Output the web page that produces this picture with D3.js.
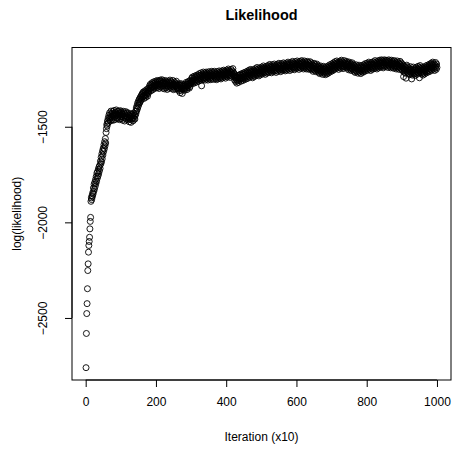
<!DOCTYPE html>
<html>
<head>
<meta charset="utf-8">
<title>Likelihood</title>
<script src="https://d3js.org/d3.v7.min.js"></script>
<style>
  body { margin: 0; background: #fff; }
  svg text { font-family: "Liberation Sans", Arial, Helvetica, sans-serif; fill: #000; }
  .axis path, .axis line { stroke: #000; }
</style>
</head>
<body>
<svg id="chart" width="455" height="450"></svg>
<script>
// log-likelihood trace, one value per saved iteration (x10)
var loglik = [
  -2760, -2581, -2477, -2425, -2347, -2252, -2217, -2156, -2121, -2100, -2078, -2034, -1995, -1974, -1890, -1872, -1881, -1860, -1866, -1845,
  -1852, -1820, -1838, -1801, -1826, -1790, -1812, -1776, -1798, -1760, -1785, -1742, -1770, -1735, -1758, -1722, -1746, -1710, -1731, -1702,
  -1718, -1680, -1695, -1660, -1684, -1642, -1668, -1626, -1648, -1612, -1630, -1594, -1616, -1578, -1600, -1562, -1585, -1530, -1510, -1488,
  -1496, -1470, -1482, -1455, -1476, -1440, -1462, -1428, -1451, -1470, -1436, -1418, -1447, -1465, -1430, -1452, -1420, -1441, -1466, -1433,
  -1415, -1448, -1430, -1462, -1425, -1441, -1412, -1454, -1436, -1420, -1458, -1431, -1446, -1418, -1440, -1463, -1427, -1449, -1416, -1437,
  -1458, -1424, -1447, -1432, -1466, -1438, -1419, -1452, -1428, -1445, -1470, -1433, -1456, -1421, -1442, -1461, -1430, -1450, -1426, -1448,
  -1464, -1437, -1455, -1474, -1442, -1460, -1431, -1452, -1477, -1446, -1462, -1434, -1458, -1441, -1469, -1449, -1428, -1456, -1439, -1460,
  -1442, -1420, -1432, -1402, -1418, -1390, -1408, -1376, -1396, -1368, -1385, -1358, -1376, -1352, -1370, -1345, -1362, -1338, -1356, -1331,
  -1348, -1325, -1342, -1318, -1336, -1352, -1322, -1340, -1312, -1330, -1346, -1316, -1334, -1305, -1322, -1340, -1310, -1326, -1298, -1317,
  -1308, -1286, -1302, -1278, -1296, -1312, -1282, -1298, -1270, -1290, -1306, -1276, -1294, -1265, -1284, -1300, -1272, -1288, -1262, -1280,
  -1296, -1268, -1285, -1258, -1276, -1294, -1266, -1282, -1300, -1262, -1279, -1256, -1274, -1292, -1264, -1286, -1254, -1272, -1298, -1268,
  -1284, -1260, -1278, -1302, -1270, -1288, -1258, -1276, -1296, -1266, -1284, -1305, -1272, -1290, -1262, -1280, -1299, -1268, -1286, -1256,
  -1274, -1294, -1264, -1282, -1300, -1270, -1288, -1258, -1278, -1306, -1276, -1292, -1266, -1284, -1302, -1272, -1290, -1262, -1281, -1298,
  -1286, -1304, -1278, -1296, -1312, -1282, -1300, -1274, -1322, -1292, -1310, -1284, -1302, -1276, -1326, -1298, -1288, -1306, -1280, -1296,
  -1310, -1284, -1302, -1276, -1294, -1268, -1288, -1306, -1278, -1296, -1270, -1286, -1262, -1280, -1298, -1272, -1290, -1258, -1276, -1264,
  -1270, -1246, -1262, -1240, -1258, -1274, -1248, -1264, -1236, -1254, -1270, -1242, -1258, -1232, -1250, -1266, -1238, -1256, -1228, -1246,
  -1262, -1234, -1250, -1222, -1240, -1258, -1230, -1248, -1218, -1286, -1236, -1254, -1226, -1244, -1214, -1232, -1250, -1220, -1240, -1256,
  -1226, -1244, -1214, -1232, -1250, -1220, -1238, -1256, -1224, -1242, -1212, -1230, -1248, -1218, -1236, -1254, -1222, -1240, -1210, -1228,
  -1246, -1216, -1234, -1252, -1222, -1240, -1210, -1228, -1248, -1218, -1236, -1254, -1224, -1242, -1212, -1230, -1250, -1220, -1238, -1208,
  -1226, -1244, -1214, -1232, -1250, -1220, -1238, -1208, -1226, -1244, -1214, -1232, -1204, -1222, -1240, -1210, -1228, -1246, -1216, -1234,
  -1204, -1222, -1240, -1210, -1228, -1198, -1216, -1234, -1206, -1224, -1242, -1212, -1230, -1200, -1218, -1236, -1208, -1226, -1196, -1214,
  -1232, -1220, -1238, -1256, -1228, -1246, -1264, -1236, -1254, -1272, -1242, -1260, -1232, -1250, -1268, -1240, -1258, -1230, -1248, -1226,
  -1244, -1262, -1232, -1250, -1222, -1240, -1258, -1228, -1246, -1218, -1236, -1254, -1224, -1242, -1214, -1232, -1250, -1220, -1238, -1210,
  -1228, -1246, -1216, -1234, -1204, -1222, -1240, -1212, -1230, -1200, -1218, -1236, -1208, -1226, -1244, -1214, -1232, -1202, -1220, -1238,
  -1208, -1226, -1196, -1214, -1232, -1202, -1220, -1190, -1208, -1226, -1198, -1216, -1234, -1204, -1222, -1192, -1210, -1228, -1200, -1218,
  -1188, -1206, -1224, -1194, -1212, -1182, -1200, -1218, -1190, -1208, -1226, -1196, -1214, -1184, -1202, -1220, -1192, -1210, -1180, -1198,
  -1216, -1186, -1204, -1174, -1192, -1210, -1182, -1200, -1218, -1188, -1206, -1176, -1194, -1212, -1184, -1202, -1172, -1190, -1208, -1180,
  -1198, -1216, -1186, -1204, -1174, -1192, -1210, -1180, -1198, -1168, -1186, -1204, -1176, -1194, -1212, -1182, -1200, -1170, -1188, -1206,
  -1178, -1196, -1166, -1184, -1202, -1172, -1190, -1208, -1180, -1198, -1168, -1186, -1204, -1174, -1192, -1162, -1180, -1198, -1170, -1188,
  -1206, -1176, -1194, -1164, -1182, -1200, -1170, -1188, -1158, -1176, -1194, -1166, -1184, -1202, -1172, -1190, -1160, -1178, -1196, -1168,
  -1186, -1156, -1174, -1192, -1164, -1182, -1200, -1170, -1188, -1158, -1176, -1194, -1166, -1184, -1154, -1172, -1190, -1162, -1180, -1198,
  -1168, -1186, -1156, -1174, -1192, -1162, -1180, -1198, -1170, -1188, -1158, -1176, -1194, -1164, -1182, -1200, -1172, -1190, -1160, -1178,
  -1196, -1166, -1184, -1202, -1174, -1192, -1210, -1180, -1198, -1168, -1186, -1204, -1176, -1194, -1212, -1184, -1202, -1172, -1190, -1208,
  -1180, -1198, -1216, -1186, -1204, -1222, -1194, -1212, -1182, -1200, -1218, -1190, -1208, -1226, -1196, -1214, -1184, -1202, -1220, -1192,
  -1210, -1228, -1198, -1216, -1188, -1206, -1224, -1194, -1212, -1182, -1200, -1218, -1188, -1206, -1176, -1194, -1212, -1184, -1202, -1172,
  -1190, -1208, -1178, -1196, -1166, -1184, -1202, -1172, -1190, -1160, -1178, -1196, -1168, -1186, -1156, -1174, -1192, -1164, -1182, -1200,
  -1170, -1188, -1158, -1176, -1194, -1164, -1182, -1152, -1170, -1188, -1160, -1178, -1196, -1166, -1184, -1154, -1172, -1190, -1162, -1180,
  -1170, -1188, -1158, -1176, -1194, -1166, -1184, -1202, -1172, -1190, -1162, -1180, -1198, -1170, -1188, -1206, -1176, -1194, -1166, -1184,
  -1202, -1174, -1192, -1210, -1180, -1198, -1216, -1188, -1206, -1176, -1194, -1212, -1184, -1202, -1220, -1190, -1208, -1178, -1196, -1214,
  -1186, -1204, -1222, -1192, -1210, -1180, -1198, -1216, -1188, -1206, -1176, -1194, -1212, -1182, -1200, -1170, -1188, -1206, -1178, -1196,
  -1168, -1186, -1204, -1174, -1192, -1162, -1180, -1198, -1170, -1188, -1206, -1176, -1194, -1164, -1182, -1200, -1172, -1190, -1160, -1178,
  -1196, -1166, -1184, -1154, -1172, -1190, -1162, -1180, -1198, -1168, -1186, -1156, -1174, -1192, -1164, -1182, -1152, -1170, -1188, -1160,
  -1178, -1150, -1166, -1184, -1156, -1174, -1192, -1162, -1180, -1150, -1168, -1186, -1158, -1176, -1152, -1164, -1182, -1154, -1172, -1190,
  -1160, -1178, -1150, -1168, -1186, -1156, -1174, -1192, -1164, -1182, -1152, -1170, -1188, -1158, -1176, -1194, -1166, -1184, -1154, -1172,
  -1190, -1162, -1180, -1198, -1168, -1186, -1156, -1174, -1192, -1164, -1182, -1200, -1170, -1188, -1158, -1176, -1194, -1166, -1184, -1202,
  -1172, -1190, -1208, -1178, -1238, -1196, -1214, -1184, -1202, -1220, -1190, -1246, -1208, -1178, -1196, -1214, -1186, -1204, -1222, -1192,
  -1210, -1228, -1198, -1216, -1186, -1204, -1222, -1250, -1212, -1230, -1200, -1218, -1188, -1206, -1224, -1196, -1214, -1232, -1202, -1220,
  -1190, -1208, -1226, -1196, -1214, -1184, -1202, -1220, -1192, -1244, -1210, -1180, -1198, -1216, -1188, -1206, -1224, -1194, -1212, -1230,
  -1200, -1218, -1188, -1206, -1224, -1194, -1212, -1182, -1200, -1218, -1190, -1208, -1178, -1196, -1214, -1186, -1204, -1174, -1192, -1210,
  -1180, -1198, -1168, -1186, -1204, -1174, -1192, -1162, -1180, -1198, -1170, -1188, -1206, -1176, -1194, -1164, -1182, -1200, -1172, -1190
];
var iterations = loglik.map(function(d, i) { return i + 1; });

var xTicks = [0, 200, 400, 600, 800, 1000];
var yTicks = [-2500, -2000, -1500];

var svg = d3.select("#chart");

// plot box (R style, 4% padding on each side of the data range)
var box = { left: 72, right: 451, top: 47.5, bottom: 380 };

var xr = d3.extent(iterations), yr = d3.extent(loglik);
var xpad = (xr[1] - xr[0]) * 0.04, ypad = (yr[1] - yr[0]) * 0.04;

var x = d3.scaleLinear()
    .domain([xr[0] - xpad, xr[1] + xpad])
    .range([box.left, box.right]);

var y = d3.scaleLinear()
    .domain([yr[0] - ypad, yr[1] + ypad])
    .range([box.bottom, box.top]);

// points, open circles
svg.append("g")
  .selectAll("circle")
  .data(loglik)
  .enter().append("circle")
    .attr("cx", function(d, i) { return x(iterations[i]); })
    .attr("cy", function(d) { return y(d); })
    .attr("r", 3)
    .attr("fill", "none")
    .attr("stroke", "#000")
    .attr("stroke-width", 0.9);

// box
svg.append("rect")
    .attr("x", box.left)
    .attr("y", box.top)
    .attr("width", box.right - box.left)
    .attr("height", box.bottom - box.top)
    .attr("fill", "none")
    .attr("stroke", "#000")
    .attr("stroke-width", 1);

var fmt = d3.format("d");

// x axis
var xAxis = svg.append("g")
    .attr("class", "axis")
    .attr("transform", "translate(0," + box.bottom + ")")
    .call(d3.axisBottom(x).tickValues(xTicks).tickFormat(fmt).tickSize(7).tickPadding(10).tickSizeOuter(0));
xAxis.select(".domain").attr("d", "M" + x(0) + ",0H" + x(1000));
xAxis.selectAll("text").attr("font-size", 12).style("font-family", null);

// y axis, labels turned like R's las=0
var yAxis = svg.append("g")
    .attr("class", "axis")
    .attr("transform", "translate(" + box.left + ",0)")
    .call(d3.axisLeft(y).tickValues(yTicks).tickFormat(fmt).tickSize(7).tickSizeOuter(0));
yAxis.select(".domain").attr("d", "M0," + y(-2500) + "V" + y(-1500));
yAxis.selectAll(".tick text")
    .attr("font-size", 12)
    .style("font-family", null)
    .attr("x", null).attr("dy", null)
    .attr("text-anchor", "middle")
    .attr("transform", "translate(-25,0) rotate(-90)");

// titles
svg.append("text")
    .attr("x", (box.left + box.right) / 2)
    .attr("y", 20)
    .attr("text-anchor", "middle")
    .attr("font-size", 14.4)
    .attr("font-weight", "bold")
    .text("Likelihood");

svg.append("text")
    .attr("x", (box.left + box.right) / 2)
    .attr("y", 441)
    .attr("text-anchor", "middle")
    .attr("font-size", 12)
    .text("Iteration (x10)");

svg.append("text")
    .attr("transform", "translate(21," + (box.top + box.bottom) / 2 + ") rotate(-90)")
    .attr("text-anchor", "middle")
    .attr("font-size", 12)
    .text("log(likelihood)");
</script>
</body>
</html>
